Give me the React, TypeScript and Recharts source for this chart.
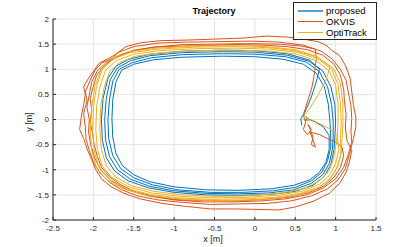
import { LineChart, Line, XAxis, YAxis, CartesianGrid, Label } from "recharts";

type P = [number, number];

const xTicks = [-2.5, -2, -1.5, -1, -0.5, 0, 0.5, 1, 1.5];
const yTicks = [-2, -1.5, -1, -0.5, 0, 0.5, 1, 1.5, 2];

// proposed (blue)
const proposedStart: P[] = [
  [0.58, -0.12], [0.57, 0.02], [0.6, 0.1], [0.65, 0.03], [0.62, -0.02], [0.68, 0.0],
  [0.75, -0.05], [0.85, -0.15], [0.92, -0.32],
];
const proposedLoop1: P[] = [
  [0.92, -0.6], [0.88, -0.85], [0.8, -1.05], [0.68, -1.2], [0.48, -1.31], [0.2, -1.38],
  [-0.2, -1.41], [-0.6, -1.4], [-1.0, -1.34], [-1.3, -1.24], [-1.5, -1.1], [-1.64, -0.92],
  [-1.72, -0.68], [-1.76, -0.35], [-1.77, 0.02], [-1.76, 0.4], [-1.72, 0.75], [-1.65, 0.98],
  [-1.5, 1.1], [-1.25, 1.19], [-0.9, 1.24], [-0.4, 1.26], [0.0, 1.25], [0.35, 1.2],
  [0.6, 1.1], [0.76, 0.92], [0.86, 0.65], [0.91, 0.3], [0.93, -0.05], [0.94, -0.35],
];
const proposedLoop2: P[] = [
  [0.94, -0.55], [0.9, -0.82], [0.83, -1.05], [0.7, -1.22], [0.5, -1.35], [0.22, -1.42],
  [-0.15, -1.45], [-0.55, -1.45], [-0.95, -1.4], [-1.27, -1.3], [-1.5, -1.16], [-1.66, -0.98],
  [-1.76, -0.72], [-1.81, -0.38], [-1.82, 0.0], [-1.8, 0.4], [-1.76, 0.76], [-1.68, 1.0],
  [-1.52, 1.13], [-1.28, 1.23], [-0.9, 1.29], [-0.4, 1.31], [0.0, 1.3], [0.38, 1.25],
  [0.64, 1.14], [0.8, 0.95], [0.9, 0.65], [0.95, 0.3], [0.97, -0.05], [0.97, -0.35],
];
const proposedLoop3: P[] = [
  [0.96, -0.6], [0.92, -0.88], [0.84, -1.1], [0.7, -1.27], [0.48, -1.4], [0.18, -1.46],
  [-0.2, -1.48], [-0.6, -1.47], [-1.0, -1.42], [-1.3, -1.33], [-1.54, -1.19], [-1.7, -1.0],
  [-1.8, -0.74], [-1.85, -0.4], [-1.86, 0.0], [-1.84, 0.42], [-1.79, 0.8], [-1.7, 1.03],
  [-1.54, 1.17], [-1.3, 1.27], [-0.9, 1.33], [-0.4, 1.35], [0.0, 1.34], [0.4, 1.28],
  [0.67, 1.16], [0.84, 0.97], [0.94, 0.66], [0.99, 0.3], [1.0, -0.05], [0.99, -0.35],
];
const proposedLoop4: P[] = [
  [0.98, -0.6], [0.94, -0.9], [0.86, -1.13], [0.72, -1.31], [0.5, -1.43], [0.2, -1.49],
  [-0.2, -1.51], [-0.6, -1.5], [-1.0, -1.45], [-1.32, -1.36], [-1.57, -1.22], [-1.74, -1.02],
  [-1.84, -0.76], [-1.89, -0.4], [-1.9, 0.0], [-1.88, 0.42], [-1.82, 0.82], [-1.72, 1.06],
  [-1.56, 1.2], [-1.3, 1.3], [-0.9, 1.36], [-0.4, 1.38], [0.0, 1.37], [0.4, 1.31],
  [0.68, 1.18], [0.8, 1.0],
];
const proposedEnd: P[] = [
  [0.76, 0.75], [0.7, 0.45], [0.64, 0.22], [0.6, 0.08],
];

// OKVIS (red)
const okvisStart: P[] = [
  [0.6, 0.08], [0.63, -0.05], [0.6, -0.2], [0.65, -0.3], [0.7, -0.2], [0.66, -0.1],
  [0.72, -0.35], [0.7, -0.5], [0.75, -0.55], [0.72, -0.4], [0.68, -0.25], [0.8, -0.3],
  [0.9, -0.38], [1.0, -0.45], [1.08, -0.55],
];
const okvisLoop1: P[] = [
  [1.1, -0.72], [1.06, -0.95], [0.98, -1.15], [0.85, -1.33], [0.66, -1.46], [0.4, -1.55],
  [0.1, -1.59], [-0.25, -1.62], [-0.6, -1.61], [-0.95, -1.6], [-1.25, -1.53], [-1.48, -1.44],
  [-1.66, -1.3], [-1.8, -1.14], [-1.9, -0.95], [-1.95, -0.74], [-1.99, -0.5], [-2.01, -0.28],
  [-2.04, -0.05], [-2.02, 0.18], [-2.04, 0.42], [-2.0, 0.66], [-1.96, 0.88], [-1.88, 1.04],
  [-1.8, 1.15], [-1.68, 1.27], [-1.5, 1.38], [-1.25, 1.44], [-0.95, 1.46], [-0.6, 1.47],
  [-0.25, 1.49], [0.1, 1.48], [0.4, 1.45], [0.65, 1.39], [0.84, 1.28], [0.98, 1.1],
  [1.06, 0.88], [1.1, 0.6], [1.11, 0.35], [1.13, 0.1], [1.12, -0.15], [1.14, -0.42],
];
const okvisLoop2: P[] = [
  [1.2, -0.62], [1.17, -0.85], [1.13, -1.05], [1.05, -1.27], [0.92, -1.47], [0.72, -1.63],
  [0.5, -1.74], [0.3, -1.8], [0.05, -1.79], [-0.25, -1.78], [-0.55, -1.78], [-0.85, -1.73],
  [-1.15, -1.67], [-1.42, -1.58], [-1.62, -1.47], [-1.78, -1.34], [-1.9, -1.18], [-1.97, -1.0],
  [-2.02, -0.8], [-2.08, -0.58], [-2.12, -0.38], [-2.17, -0.2], [-2.15, 0.05], [-2.12, 0.3],
  [-2.1, 0.5], [-2.12, 0.65], [-2.06, 0.82], [-1.99, 0.98], [-1.93, 1.12], [-1.83, 1.2],
  [-1.72, 1.3], [-1.6, 1.45], [-1.4, 1.53], [-1.15, 1.57], [-0.85, 1.58], [-0.5, 1.6],
  [-0.15, 1.62], [0.15, 1.66], [0.4, 1.64], [0.6, 1.6], [0.78, 1.55], [0.88, 1.48],
  [0.95, 1.38], [1.05, 1.27], [1.12, 1.08], [1.18, 0.82], [1.2, 0.55], [1.22, 0.3],
  [1.25, 0.05], [1.25, -0.15], [1.22, -0.38],
];
const okvisLoop3: P[] = [
  [1.17, -0.7], [1.12, -0.98], [1.03, -1.2], [0.9, -1.38], [0.7, -1.52], [0.45, -1.62],
  [0.15, -1.67], [-0.2, -1.68], [-0.55, -1.69], [-0.9, -1.65], [-1.2, -1.6], [-1.45, -1.52],
  [-1.65, -1.4], [-1.8, -1.25], [-1.92, -1.06], [-2.0, -0.85], [-2.05, -0.62], [-2.09, -0.4],
  [-2.1, -0.15], [-2.12, 0.12], [-2.08, 0.38], [-2.1, 0.55], [-2.04, 0.78], [-1.98, 0.98],
  [-1.9, 1.12], [-1.76, 1.22], [-1.7, 1.33], [-1.5, 1.45], [-1.2, 1.52], [-0.85, 1.54],
  [-0.45, 1.55], [-0.05, 1.56], [0.3, 1.54], [0.6, 1.48], [0.82, 1.36], [0.96, 1.2],
  [1.06, 1.0], [1.13, 0.78], [1.16, 0.52], [1.19, 0.28], [1.2, 0.02], [1.19, -0.25], [1.2, -0.45],
];
const okvisLoop4: P[] = [
  [1.16, -0.68], [1.1, -0.95], [1.0, -1.18], [0.85, -1.36], [0.64, -1.5], [0.38, -1.58],
  [0.08, -1.62], [-0.28, -1.64], [-0.65, -1.64], [-1.0, -1.6], [-1.32, -1.52], [-1.58, -1.4],
  [-1.78, -1.22], [-1.9, -1.02], [-1.98, -0.78], [-2.03, -0.52], [-2.06, -0.25], [-2.05, 0.0],
  [-2.08, 0.25], [-2.05, 0.5], [-2.02, 0.75], [-1.95, 0.97], [-1.85, 1.12], [-1.7, 1.25],
  [-1.52, 1.36], [-1.25, 1.44], [-0.9, 1.49], [-0.5, 1.5], [-0.1, 1.51], [0.3, 1.5],
  [0.58, 1.46], [0.75, 1.4],
];
const okvisEnd: P[] = [
  [0.76, 1.2], [0.74, 0.95], [0.72, 0.75], [0.7, 0.6], [0.66, 0.4], [0.62, 0.2], [0.6, 0.08],
];

// OptiTrack (yellow)
const optiStart: P[] = [
  [0.6, 0.0], [0.62, 0.06], [0.67, 0.02], [0.63, -0.03], [0.7, 0.0], [0.8, -0.08],
  [0.92, -0.18], [1.02, -0.3],
];
const optiLoop1: P[] = [
  [1.0, -0.55], [0.97, -0.8], [0.92, -1.02], [0.8, -1.22], [0.6, -1.38], [0.3, -1.47],
  [-0.1, -1.52], [-0.5, -1.53], [-0.9, -1.5], [-1.25, -1.43], [-1.52, -1.32], [-1.72, -1.15],
  [-1.84, -0.92], [-1.9, -0.6], [-1.92, -0.2], [-1.91, 0.25], [-1.87, 0.62], [-1.8, 0.95],
  [-1.68, 1.13], [-1.48, 1.26], [-1.15, 1.33], [-0.7, 1.37], [-0.2, 1.38], [0.2, 1.36],
  [0.52, 1.3], [0.76, 1.17], [0.92, 0.97], [1.0, 0.68], [1.03, 0.3], [1.03, -0.05], [1.02, -0.35],
];
const optiLoop2: P[] = [
  [1.04, -0.6], [1.0, -0.87], [0.93, -1.1], [0.8, -1.29], [0.58, -1.43], [0.27, -1.51],
  [-0.12, -1.55], [-0.52, -1.56], [-0.92, -1.53], [-1.28, -1.46], [-1.56, -1.34], [-1.77, -1.16],
  [-1.89, -0.93], [-1.95, -0.6], [-1.97, -0.2], [-1.96, 0.25], [-1.92, 0.64], [-1.85, 0.98],
  [-1.72, 1.17], [-1.5, 1.3], [-1.18, 1.37], [-0.72, 1.41], [-0.22, 1.42], [0.18, 1.4],
  [0.52, 1.34], [0.78, 1.21], [0.95, 1.0], [1.03, 0.7], [1.06, 0.3], [1.07, -0.05], [1.06, -0.38],
];
const optiLoop3: P[] = [
  [1.07, -0.65], [1.03, -0.92], [0.95, -1.15], [0.8, -1.34], [0.56, -1.47], [0.24, -1.55],
  [-0.15, -1.58], [-0.55, -1.59], [-0.95, -1.56], [-1.3, -1.49], [-1.6, -1.37], [-1.8, -1.19],
  [-1.93, -0.95], [-1.99, -0.62], [-2.01, -0.2], [-2.0, 0.25], [-1.96, 0.66], [-1.89, 1.0],
  [-1.76, 1.2], [-1.55, 1.33], [-1.2, 1.4], [-0.74, 1.44], [-0.24, 1.45], [0.16, 1.43],
  [0.5, 1.37], [0.78, 1.24], [0.97, 1.02], [1.06, 0.72], [1.09, 0.3], [1.09, -0.05], [1.08, -0.4],
];
const optiLoop4: P[] = [
  [1.06, -0.72], [1.01, -0.98], [0.92, -1.2], [0.77, -1.38], [0.54, -1.5], [0.2, -1.58],
  [-0.2, -1.61], [-0.6, -1.61], [-1.0, -1.57], [-1.35, -1.5], [-1.63, -1.38], [-1.84, -1.2],
  [-1.96, -0.96], [-2.02, -0.62], [-2.04, -0.2], [-2.02, 0.25], [-1.98, 0.66], [-1.9, 1.02],
  [-1.78, 1.22], [-1.57, 1.35], [-1.22, 1.42], [-0.76, 1.46], [-0.26, 1.47], [0.14, 1.45],
  [0.5, 1.39], [0.76, 1.26], [0.93, 1.05],
];
const optiEnd: P[] = [
  [0.88, 0.78], [0.78, 0.48], [0.68, 0.22], [0.6, 0.05],
];

const toRows = (parts: P[][]) => parts.flat().map(([x, y]) => ({ x, y }));

const series = [
  {
    name: "proposed",
    color: "#0072BD",
    legendColor: "#4da3dc",
    data: toRows([proposedStart, proposedLoop1, proposedLoop2, proposedLoop3, proposedLoop4, proposedEnd]),
  },
  {
    name: "OKVIS",
    color: "#D95319",
    legendColor: "#D95319",
    data: toRows([okvisStart, okvisLoop1, okvisLoop2, okvisLoop3, okvisLoop4, okvisEnd]),
  },
  {
    name: "OptiTrack",
    color: "#EDB120",
    legendColor: "#EDB120",
    data: toRows([optiStart, optiLoop1, optiLoop2, optiLoop3, optiLoop4, optiEnd]),
  },
];

const font = "'Liberation Sans', Arial, Helvetica, sans-serif";
const axisColor = "#262626";
const tickStyle = { fontSize: 8, fill: axisColor, fontFamily: font };

export default function App() {
  return (
    <div style={{ position: "relative", width: 415, height: 247, fontFamily: font, background: "#fff" }}>
      <style>{"body{margin:0}"}</style>
      <LineChart width={415} height={247} margin={{ top: 19, right: 39, bottom: 0, left: 0 }}>
        <CartesianGrid stroke="#e4e4e4" strokeWidth={1} />
        <XAxis
          dataKey="x"
          type="number"
          domain={[-2.5, 1.5]}
          ticks={xTicks}
          allowDataOverflow
          height={27}
          stroke={axisColor}
          tickSize={-3}
          tickMargin={8}
          tick={tickStyle}
        >
          <Label
            content={() => (
              <text x={213} y={242} textAnchor="middle" fontSize={9} fill={axisColor} fontFamily={font}>
                x [m]
              </text>
            )}
          />
        </XAxis>
        <XAxis
          xAxisId="top"
          orientation="top"
          type="number"
          domain={[-2.5, 1.5]}
          ticks={xTicks}
          allowDataOverflow
          height={0}
          stroke={axisColor}
          tickSize={-3}
          tick={false}
        />
        <YAxis
          type="number"
          domain={[-2, 2]}
          ticks={yTicks}
          allowDataOverflow
          width={53}
          stroke={axisColor}
          tickSize={-3}
          tickMargin={7}
          tick={tickStyle}
        >
          <Label
            content={() => (
              <text
                x={0}
                y={0}
                transform="translate(32,122) rotate(-90)"
                textAnchor="middle"
                fontSize={9}
                fill={axisColor}
                fontFamily={font}
              >
                y [m]
              </text>
            )}
          />
        </YAxis>
        <YAxis
          yAxisId="right"
          orientation="right"
          type="number"
          domain={[-2, 2]}
          ticks={yTicks}
          allowDataOverflow
          width={0}
          stroke={axisColor}
          tickSize={-3}
          tick={false}
        />
        {series.map((s) => (
          <Line
            key={s.name}
            data={s.data}
            dataKey="y"
            name={s.name}
            type="linear"
            stroke={s.color}
            strokeWidth={1}
            dot={false}
            activeDot={false}
            isAnimationActive={false}
          />
        ))}
      </LineChart>
      <div
        style={{
          position: "absolute",
          left: 0,
          width: 428,
          top: 5,
          textAlign: "center",
          fontSize: 9,
          fontWeight: "bold",
          color: "#000",
          lineHeight: "12px",
        }}
      >
        Trajectory
      </div>
      <div
        style={{
          position: "absolute",
          left: 293,
          top: 2,
          width: 82,
          height: 36,
          border: `1px solid ${axisColor}`,
          background: "#fff",
          boxSizing: "content-box",
        }}
      >
        {series.map((s, i) => (
          <div
            key={s.name}
            style={{
              position: "absolute",
              left: 4,
              top: 2 + i * 11.2,
              height: 11,
              display: "flex",
              alignItems: "center",
              fontSize: 9.5,
              color: "#000",
              whiteSpace: "nowrap",
            }}
          >
            <span
              style={{
                display: "inline-block",
                width: 25,
                height: 0,
                borderTop: `${i === 0 ? 2 : 1}px solid ${s.legendColor}`,
                marginRight: 3,
              }}
            />
            {s.name}
          </div>
        ))}
      </div>
    </div>
  );
}
